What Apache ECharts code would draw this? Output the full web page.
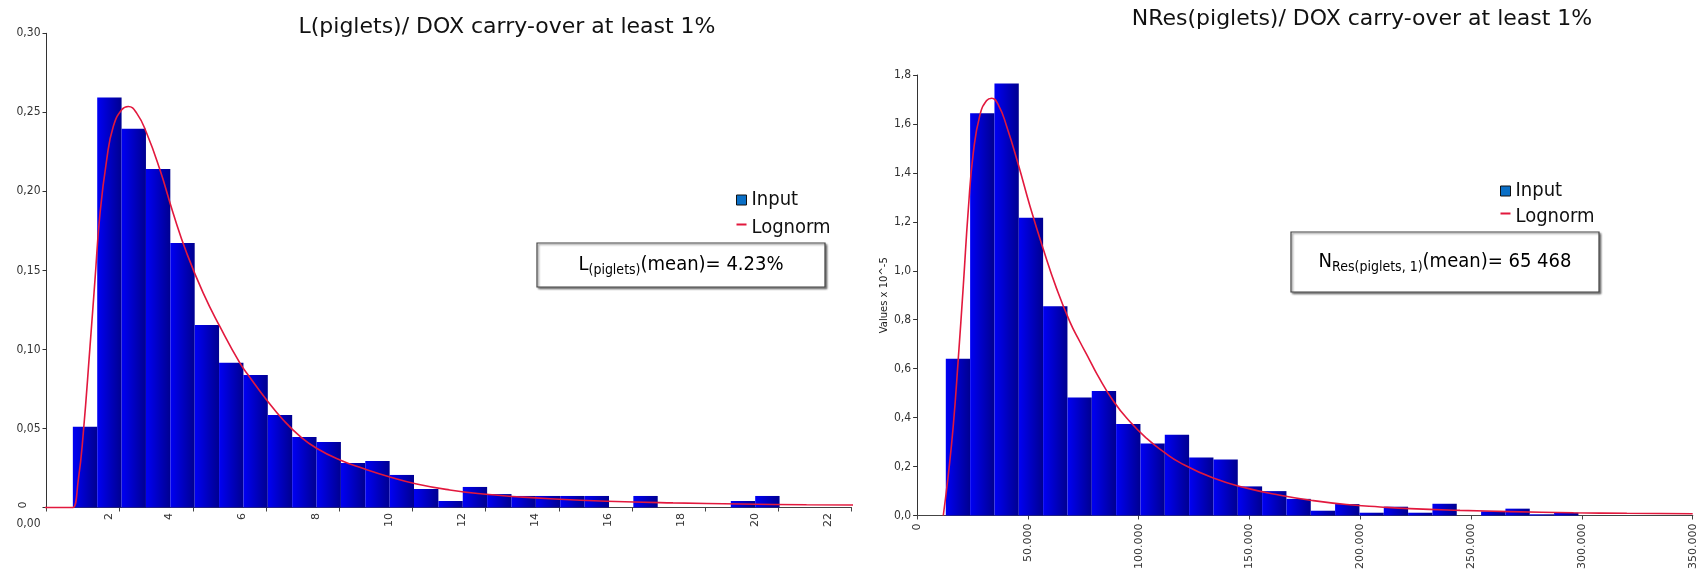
<!DOCTYPE html>
<html><head><meta charset="utf-8">
<script src="https://cdn.jsdelivr.net/npm/echarts@6/dist/echarts.min.js"></script>
<style>html,body{margin:0;padding:0;background:#fff}#c{width:1702px;height:572px}</style>
</head><body><div id="c"></div>
<script>
// ---------- Left chart: L(piglets) ----------
const leftTitle = 'L(piglets)/ DOX carry-over at least 1%';
const leftBinStart = 0.72;
const leftBinWidth = 0.666;
const leftBins = [0.0511, 0.2594, 0.2396, 0.2142, 0.1674, 0.1155, 0.0915, 0.0839, 0.0585, 0.0446,
  0.0415, 0.0282, 0.0294, 0.0206, 0.0117, 0.0041, 0.0130, 0.0085, 0.0073, 0.0073,
  0.0073, 0.0073, 0, 0.0073, 0, 0, 0, 0.0041, 0.0073];
const leftCurveX = [-0.31, 0.62, 0.72, 0.869, 1.005, 1.189, 1.325, 1.462, 1.645, 1.825, 2.055, 2.235, 2.464,
  2.738, 3.101, 3.464, 3.831, 4.284, 4.740, 5.287, 5.56, 6.017, 6.47, 6.93, 7.38, 8.02, 8.66,
  9.385, 10.115, 11.02, 11.93, 12.85, 13.76, 15.31, 17.12, 18.95, 20.77, 22.36];
const leftCurveY = [0, 0, 0, 0.0174, 0.047, 0.1018, 0.144, 0.186, 0.22, 0.241, 0.2516, 0.2537, 0.2495,
  0.2368, 0.2136, 0.186, 0.161, 0.1356, 0.1144, 0.0913, 0.0823, 0.068, 0.0554, 0.0450, 0.0375, 0.030, 0.0246,
  0.0193, 0.0149, 0.0111, 0.0085, 0.0068, 0.0055, 0.0040, 0.0029, 0.0022, 0.0017, 0.0015];
const leftXTicks = [0, 2, 4, 6, 8, 10, 12, 14, 16, 18, 20, 22];
const leftYTicks = [0, 0.05, 0.10, 0.15, 0.20, 0.25, 0.30];
const leftNote = {main: 'L', sub: '(piglets)', rest: '(mean)= 4.23%'};

// ---------- Right chart: NRes(piglets) ----------
const rightTitle = 'NRes(piglets)/ DOX carry-over at least 1%';
const rightBinStart = 12950;
const rightBinWidth = 10980;
const rightBins = [0.641, 1.644, 1.765, 1.217, 0.855, 0.482, 0.509, 0.374, 0.294, 0.330,
  0.237, 0.229, 0.119, 0.0997, 0.068, 0.0196, 0.0468, 0.0114, 0.036, 0.0114,
  0.048, 0, 0.017, 0.028, 0.005, 0.0114];
const rightCurveX = [11820, 14080, 16340, 18590, 20850, 23110, 25360, 28390, 31410, 33670, 36650, 40440,
  45670, 50950, 56960, 63000, 69000, 73520, 78030, 81050, 88550, 96080, 103600, 111110, 118640,
  133670, 148740, 163780, 178810, 193880, 208910, 222450, 245000, 267600, 296200, 320300, 350000];
const rightCurveY = [0, 0.166, 0.369, 0.641, 0.939, 1.251, 1.482, 1.638, 1.696, 1.705, 1.678, 1.590,
  1.434, 1.264, 1.088, 0.926, 0.790, 0.709, 0.632, 0.580, 0.468, 0.383, 0.315, 0.261, 0.216,
  0.153, 0.112, 0.083, 0.061, 0.045, 0.035, 0.028, 0.021, 0.016, 0.011, 0.009, 0.007];
const rightXTicks = [0, 50000, 100000, 150000, 200000, 250000, 300000, 350000];
const rightYTicks = [0, 0.2, 0.4, 0.6, 0.8, 1.0, 1.2, 1.4, 1.6, 1.8];
const rightYName = 'Values x 10^-5';
const rightNote = {main: 'N', sub: 'Res(piglets, 1)', rest: '(mean)= 65 468'};

const seriesNames = ['Input', 'Lognorm'];

// ---------- styling ----------
const FONT = "'DejaVu Sans Condensed', 'DejaVu Sans', sans-serif";
const TITLE_FONT = "'DejaVu Sans', sans-serif";
const LABEL_FONT = "'DejaVu Sans', sans-serif";
const RED = '#e2183d';
const axisCol = '#333';

function barGrad() {
  return new echarts.graphic.LinearGradient(0, 0, 1, 0, [
    {offset: 0, color: '#0000f4'}, {offset: 1, color: '#000090'}
  ]);
}
function histSeries(xi, start, width, values) {
  return {
    type: 'custom', name: seriesNames[0], xAxisIndex: xi, yAxisIndex: xi,
    data: values.map((v, i) => [start + i * width, start + (i + 1) * width, v]),
    encode: {x: [0, 1], y: 2},
    renderItem(params, api) {
      const p0 = api.coord([api.value(0), api.value(2)]);
      const p1 = api.coord([api.value(1), 0]);
      return {type: 'rect', shape: {x: p0[0], y: p0[1], width: p1[0] - p0[0], height: p1[1] - p0[1]},
        style: {fill: barGrad()}};
    }
  };
}
function curveSeries(xi, xs, ys) {
  return {
    type: 'line', name: seriesNames[1], xAxisIndex: xi, yAxisIndex: xi,
    data: xs.map((x, i) => [x, ys[i]]), showSymbol: false, symbol: 'none',
    smooth: 0.5, clip: false, z: 5,
    lineStyle: {color: RED, width: 1.6}, itemStyle: {color: RED}
  };
}
function legendFor(left, top, gap) {
  return {
    left, top, orient: 'vertical', itemWidth: 10, itemHeight: 10, itemGap: gap, selectedMode: false,
    padding: 0,
    textStyle: {fontFamily: FONT, fontSize: 20, color: '#111'},
    data: [
      {name: seriesNames[0], icon: 'rect', itemStyle: {color: '#0a6fc6', borderColor: '#111', borderWidth: 1}},
      {name: seriesNames[1], icon: 'path://M0,0H10V2H0Z M0,9H0.01V9.01H0Z', itemStyle: {color: RED, borderWidth: 0}}
    ]
  };
}
function noteBox(x, y, w, h, note) {
  return {
    type: 'group', children: [
      {type: 'rect', shape: {x, y, width: w, height: h},
        style: {fill: '#fff', stroke: '#444', lineWidth: 1.2, shadowBlur: 2, shadowOffsetX: 1.5, shadowOffsetY: 1.5, shadowColor: 'rgba(0,0,0,0.45)'}},
      {type: 'text', x: x + w / 2, y: y + h / 2,
        style: {text: '{m|' + note.main + '}{s|' + note.sub + '}{m|' + note.rest + '}', align: 'center', verticalAlign: 'middle',
          rich: {m: {fontFamily: FONT, fontSize: 20, color: '#111', lineHeight: 24},
                 s: {fontFamily: FONT, fontSize: 14, color: '#111', lineHeight: 16, verticalAlign: 'bottom'}}}}
    ]
  };
}
const fmtComma = (d) => (v) => v.toFixed(d).replace('.', ',');
const lblRich = (pad) => ({fontFamily: LABEL_FONT, fontSize: 11, color: axisCol, padding: pad});

const chart = echarts.init(document.getElementById('c'), null, {renderer: 'canvas'});
chart.setOption({
  animation: false,
  backgroundColor: '#fff',
  title: [
    {text: leftTitle, left: 507, top: 16, textAlign: 'center', padding: 0,
      textStyle: {fontFamily: TITLE_FONT, fontSize: 22, fontWeight: 'normal', color: '#111'}},
    {text: rightTitle, left: 1362, top: 8, textAlign: 'center', padding: 0,
      textStyle: {fontFamily: TITLE_FONT, fontSize: 22, fontWeight: 'normal', color: '#111'}}
  ],
  legend: [legendFor(736, 190, 8), legendFor(1500, 181, 6)],
  grid: [
    {left: 46.5, top: 33.3, width: 805, height: 474.2, containLabel: false},
    {left: 917.1, top: 75, width: 775.6, height: 442.5, containLabel: false}
  ],
  xAxis: [
    {type: 'value', gridIndex: 0, min: leftXTicks[0], max: leftXTicks[leftXTicks.length - 1],
      interval: leftXTicks[1] - leftXTicks[0], splitLine: {show: false},
      axisLine: {lineStyle: {color: '#444', width: 1.2}},
      axisTick: {length: 4, lineStyle: {color: '#444'}},
      axisLabel: {rotate: 90, align: 'right', verticalAlign: 'bottom', margin: -6,
        fontFamily: LABEL_FONT, fontSize: 11, color: axisCol,
        formatter: (v) => v === 0 ? '{z|0}' : (v === 2 ? '{b|' + v + '}' : '{a|' + v + '}'),
        rich: {z: lblRich([0, 0, 18, 0]), a: lblRich([0, 11.5, 18, 0]), b: lblRich([0, 11.5, 5, 0])}}},
    {type: 'value', gridIndex: 1, min: rightXTicks[0], max: rightXTicks[rightXTicks.length - 1],
      interval: rightXTicks[1] - rightXTicks[0], splitLine: {show: false},
      axisLine: {lineStyle: {color: '#444', width: 1.2}},
      axisTick: {length: 4, lineStyle: {color: '#444'}},
      axisLabel: {rotate: 90, margin: 8, fontFamily: LABEL_FONT, fontSize: 11, color: axisCol,
        formatter: (v) => v === 0 ? '0' : String(v).replace(/\B(?=(\d{3})+(?!\d))/g, '.')}}
  ],
  yAxis: [
    {type: 'value', gridIndex: 0, min: leftYTicks[0], max: leftYTicks[leftYTicks.length - 1],
      interval: leftYTicks[1] - leftYTicks[0], splitLine: {show: false},
      axisLine: {show: true, lineStyle: {color: '#333', width: 1}},
      axisTick: {show: true, length: 4, lineStyle: {color: '#333'}},
      axisLabel: {margin: 6, fontFamily: FONT, fontSize: 12, color: axisCol,
        formatter: (v) => v === 0 ? '{z|0,00}' : fmtComma(2)(v),
        rich: {z: {fontFamily: FONT, fontSize: 12, color: axisCol, padding: [32, 0, 0, 0]}}}},
    {type: 'value', gridIndex: 1, min: rightYTicks[0], max: rightYTicks[rightYTicks.length - 1],
      interval: rightYTicks[1] - rightYTicks[0], splitLine: {show: false},
      name: rightYName, nameLocation: 'middle', nameGap: 28,
      nameTextStyle: {fontFamily: LABEL_FONT, fontSize: 10, color: '#222'},
      axisLine: {show: true, lineStyle: {color: '#333', width: 1}},
      axisTick: {show: true, length: 4, lineStyle: {color: '#333'}},
      axisLabel: {margin: 6, fontFamily: FONT, fontSize: 12, color: axisCol, formatter: fmtComma(1)}}
  ],
  series: [
    histSeries(0, leftBinStart, leftBinWidth, leftBins),
    curveSeries(0, leftCurveX, leftCurveY),
    histSeries(1, rightBinStart, rightBinWidth, rightBins),
    curveSeries(1, rightCurveX, rightCurveY)
  ],
  graphic: [noteBox(537, 243, 288, 44, leftNote), noteBox(1291, 232, 308, 60, rightNote)]
});
</script></body></html>
